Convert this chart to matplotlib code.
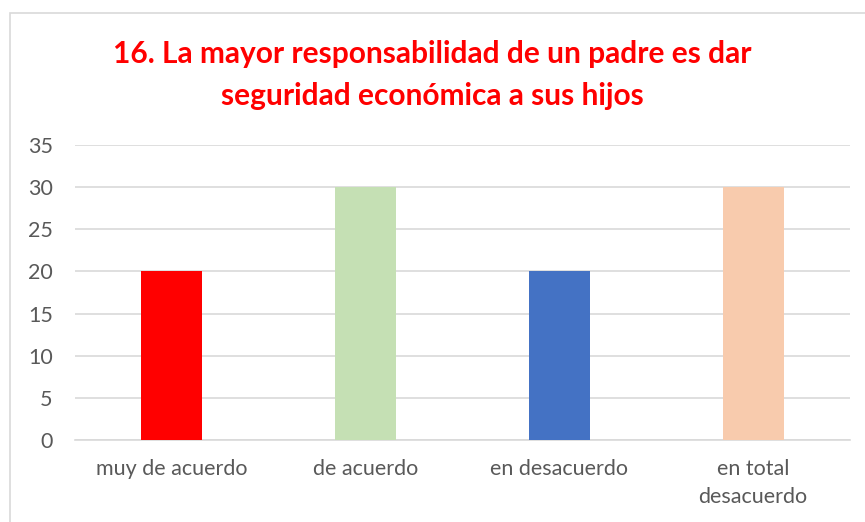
import matplotlib.pyplot as plt
from matplotlib.patches import Rectangle

categories = ["muy de acuerdo", "de acuerdo", "en desacuerdo", "en total\ndesacuerdo"]
values = [20, 30, 20, 30]
colors = ["#ff0000", "#c5e0b4", "#4472c4", "#f8cbad"]
title = "16. La mayor responsabilidad de un padre es dar\nseguridad económica a sus hijos"

plt.rcParams['font.family'] = ['Lato', 'DejaVu Sans']

fig = plt.figure(figsize=(8.65, 5.22), dpi=100)
ax = fig.add_axes([75/865, 1 - 440/522, 775/865, 295/522])

x = range(len(categories))
ax.bar(x, values, width=0.315, color=colors, zorder=3)
ax.set_xlim(-0.5, len(categories) - 0.5)
ax.set_ylim(0, 35)
ax.set_yticks(range(0, 36, 5))
ax.set_xticks(list(x))
ax.set_xticklabels(categories, fontsize=15.5, color="#595959", linespacing=1.45)
ax.tick_params(axis='y', labelsize=15.5, labelcolor="#595959", length=0, pad=16)
ax.tick_params(axis='x', length=0, pad=14)
ax.yaxis.grid(True, color="#d9d9d9", linewidth=1.2, zorder=0)
for s in ["top", "right", "left"]:
    ax.spines[s].set_visible(False)
ax.spines["bottom"].set_color("#d9d9d9")
ax.spines["bottom"].set_linewidth(1.2)

fig.text(0.5, 1 - 75/522, title, ha="center", va="center", fontsize=21.5,
         fontweight="bold", color="#ff0000", linespacing=1.6)

fig.patches.append(Rectangle((10/865, -0.1), 1.2, 1 - 13/522 + 0.1,
                             transform=fig.transFigure, fill=False,
                             edgecolor="#d9d9d9", linewidth=1.2))

fig.savefig("out.png", dpi=100)
